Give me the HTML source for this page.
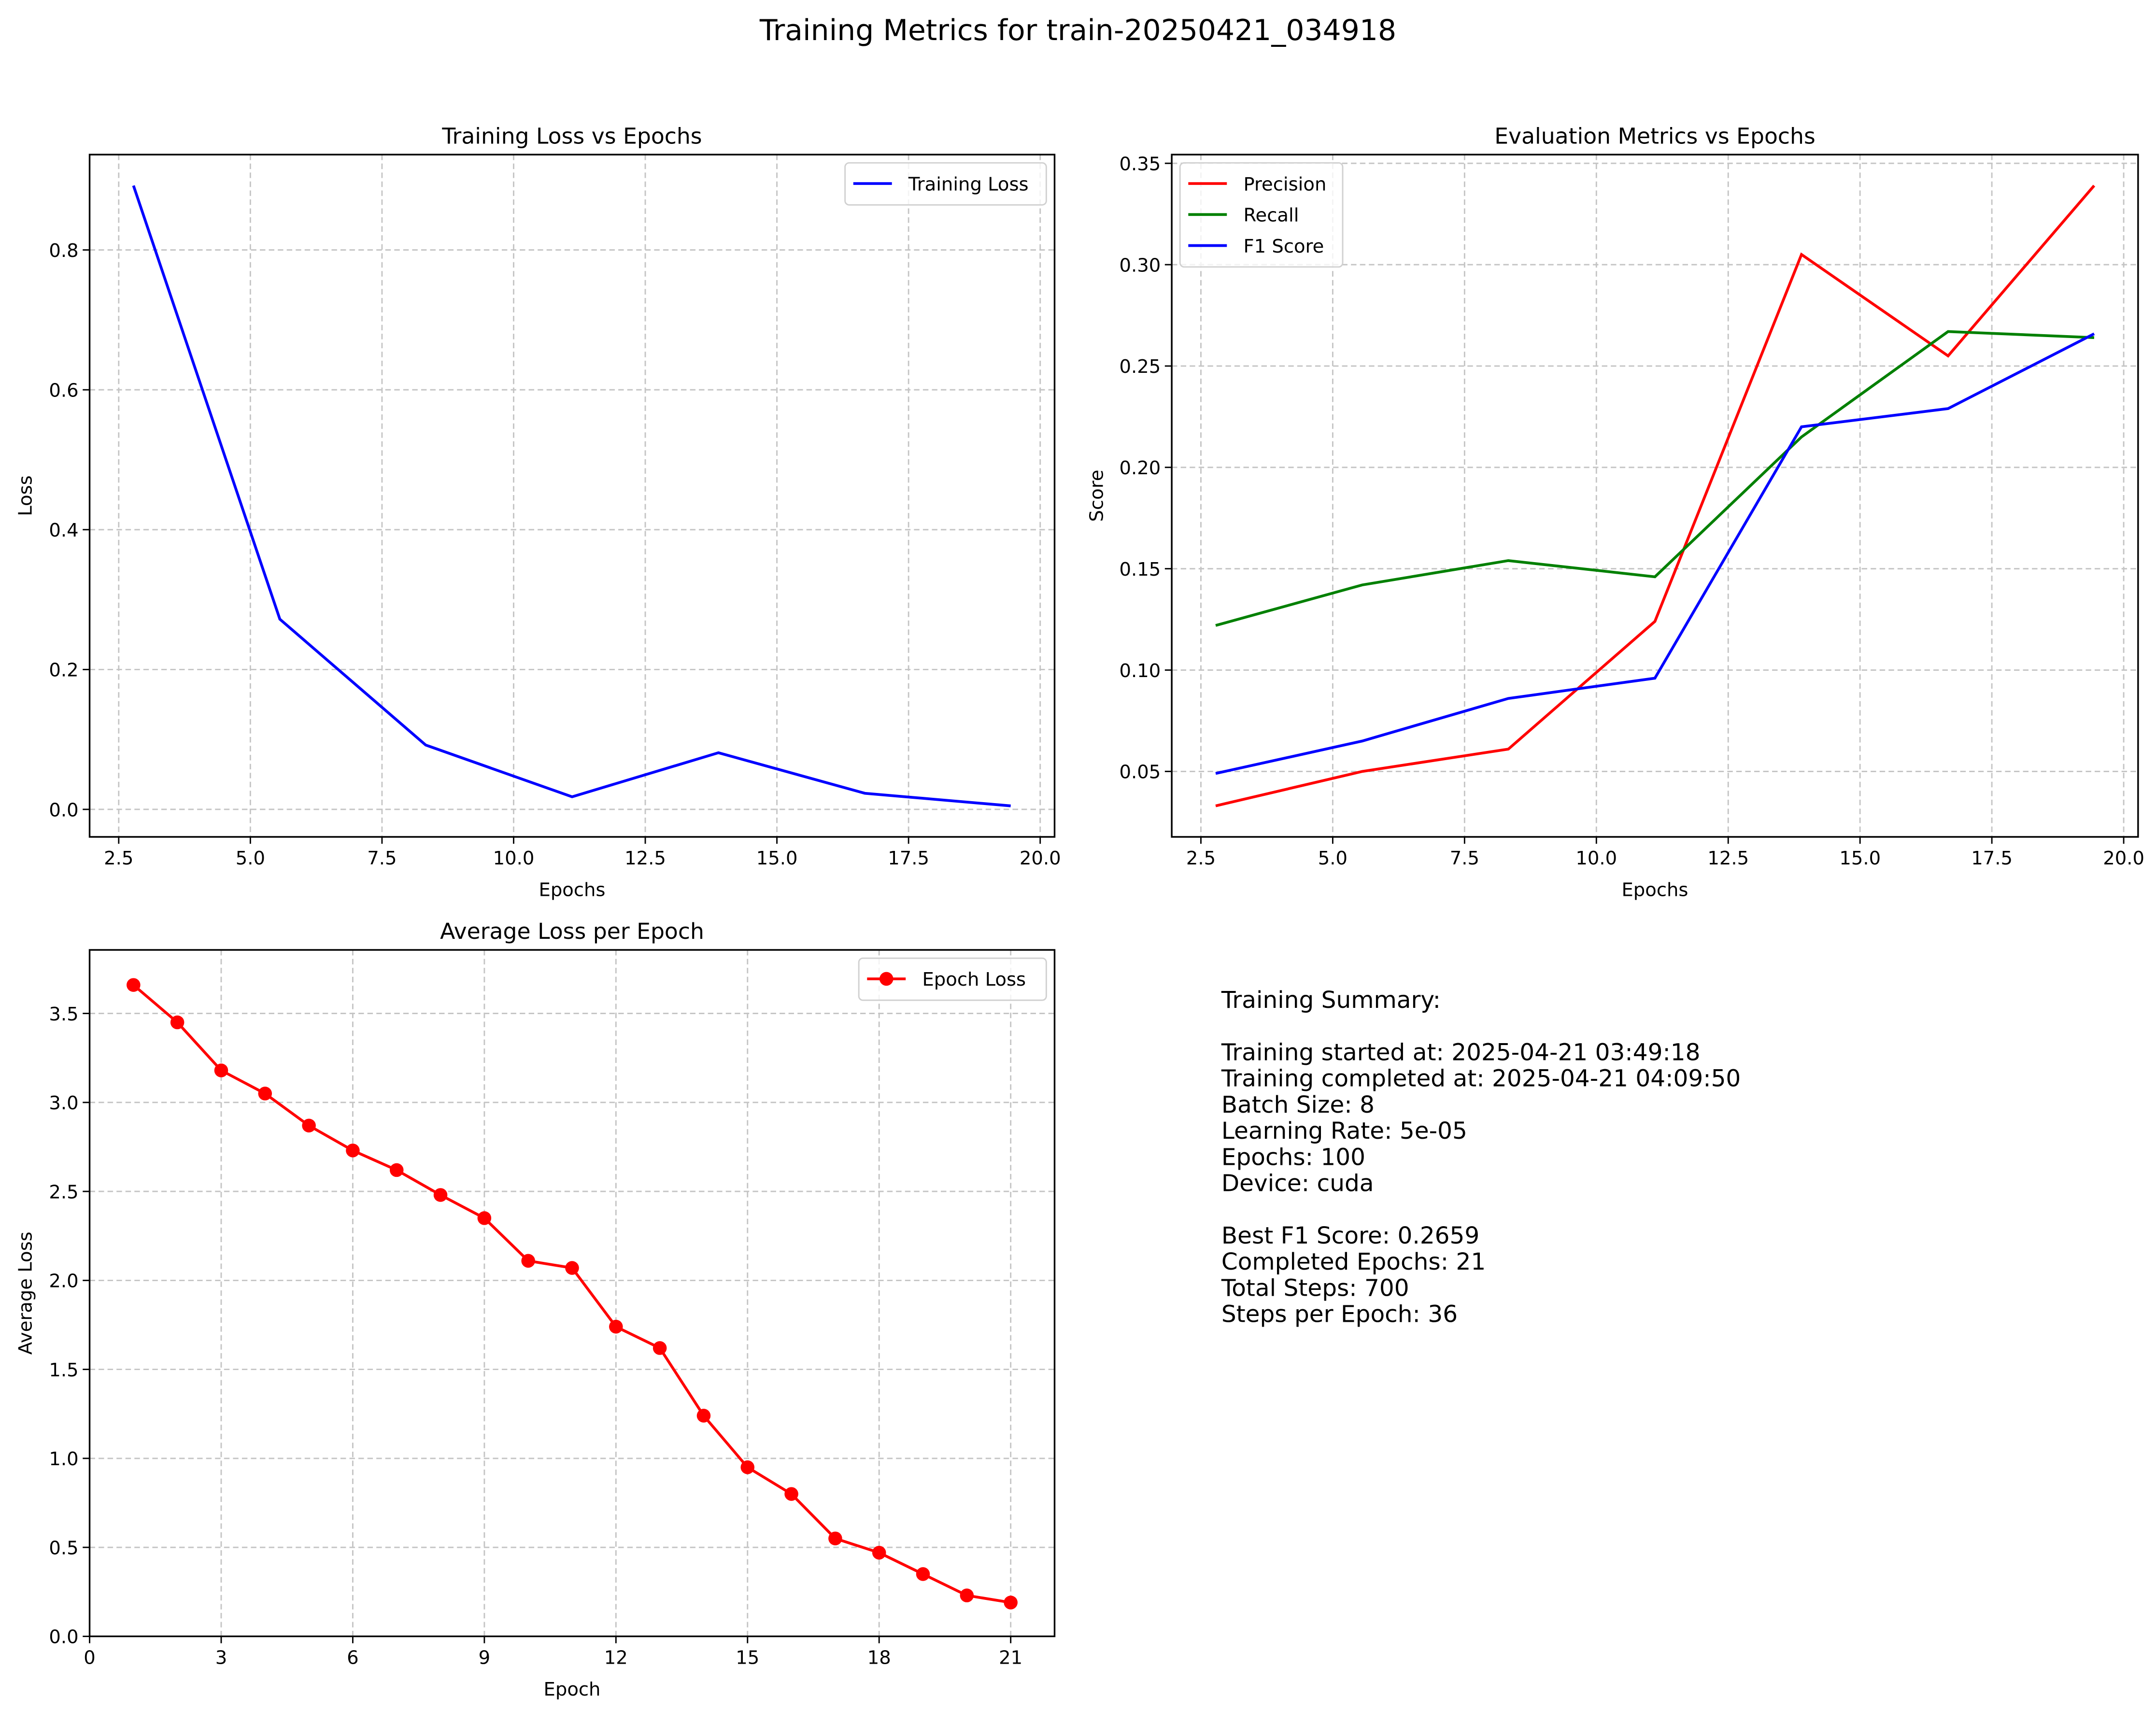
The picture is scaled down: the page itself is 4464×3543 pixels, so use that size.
<!DOCTYPE html>
<html><head><meta charset="utf-8"><style>
html,body{margin:0;padding:0;background:#fff;}
svg{display:block;font-family:"DejaVu Sans","Liberation Sans",sans-serif;}
</style></head><body>
<svg id="fig" width="4464" height="3543" viewBox="0 0 1564 1241" xmlns="http://www.w3.org/2000/svg">
<rect width="1564" height="1241" fill="#fff"/>
<text x="782" y="29" text-anchor="middle" font-size="21">Training Metrics for train-20250421_034918</text>
<g id="summary" font-size="17">
<text x="886" y="731">Training Summary:</text>
<text x="886" y="769">Training started at: 2025-04-21 03:49:18</text>
<text x="886" y="788">Training completed at: 2025-04-21 04:09:50</text>
<text x="886" y="807">Batch Size: 8</text>
<text x="886" y="826">Learning Rate: 5e-05</text>
<text x="886" y="845">Epochs: 100</text>
<text x="886" y="864">Device: cuda</text>
<text x="886" y="902">Best F1 Score: 0.2659</text>
<text x="886" y="921">Completed Epochs: 21</text>
<text x="886" y="940">Total Steps: 700</text>
<text x="886" y="959">Steps per Epoch: 36</text>
</g>
</svg>
<script>
const evalEpochs=[2.78,5.56,8.33,11.11,13.89,16.67,19.44];
const trainLoss=[0.892,0.272,0.092,0.018,0.081,0.023,0.005];
const precision=[0.033,0.050,0.061,0.124,0.305,0.255,0.339];
const recall=[0.122,0.142,0.154,0.146,0.215,0.267,0.264];
const f1=[0.049,0.065,0.086,0.096,0.220,0.229,0.2659];
const epochNums=[1,2,3,4,5,6,7,8,9,10,11,12,13,14,15,16,17,18,19,20,21];
const epochLoss=[3.66,3.45,3.18,3.05,2.87,2.73,2.62,2.48,2.35,2.11,2.07,1.74,1.62,1.24,0.95,0.80,0.55,0.47,0.35,0.23,0.19];
const xTicks1=[2.5,5.0,7.5,10.0,12.5,15.0,17.5,20.0];
const yTicks1=[0.0,0.2,0.4,0.6,0.8];
const yTicks2=[0.05,0.10,0.15,0.20,0.25,0.30,0.35];
const xTicks3=[0,3,6,9,12,15,18,21];
const yTicks3=[0.0,0.5,1.0,1.5,2.0,2.5,3.0,3.5];

const NS='http://www.w3.org/2000/svg';
const svg=document.getElementById('fig');
function mk(tag,attrs,parent){const e=document.createElementNS(NS,tag);for(const k in attrs)e.setAttribute(k,attrs[k]);(parent||svg).appendChild(e);return e;}
function lims(arr){let mn=Math.min(...arr),mx=Math.max(...arr),m=(mx-mn)*0.05;return [mn-m,mx+m];}

function axes(cfg){
  const g=mk('g',{});
  
  
  const L=cfg.l,R=cfg.r,T=cfg.t,B=cfg.b;
  const sx=v=>L+(v-cfg.xl[0])/(cfg.xl[1]-cfg.xl[0])*(R-L);
  const sy=v=>B-(v-cfg.yl[0])/(cfg.yl[1]-cfg.yl[0])*(B-T);
  cfg.xt.forEach(v=>{const x=sx(v);
    const gl=mk('line',{x1:x,x2:x,y1:T,y2:B,stroke:'#c4c4c4','stroke-width':1,'stroke-dasharray':'4,2.5'},g);
    
    
    mk('line',{x1:x,x2:x,y1:B,y2:B+5,stroke:'#000','stroke-width':1},g);
    const t=mk('text',{x:x,y:B+20,'text-anchor':'middle','font-size':13.5},g);t.textContent=cfg.xf(v);
    
    
  });
  cfg.yt.forEach(v=>{const y=sy(v);
    const gl=mk('line',{x1:L,x2:R,y1:y,y2:y,stroke:'#c4c4c4','stroke-width':1,'stroke-dasharray':'4,2.5'},g);
    
    
    mk('line',{x1:L-5,x2:L,y1:y,y2:y,stroke:'#000','stroke-width':1},g);
    const t=mk('text',{x:L-8,y:y+5,'text-anchor':'end','font-size':13.5},g);t.textContent=cfg.yf(v);
    
    
  });
  cfg.series.forEach(s=>{
    const pts=s.x.map((v,i)=>sx(v)+','+sy(s.y[i])).join(' ');
    const pl=mk('polyline',{points:pts,fill:'none',stroke:s.c,'stroke-width':2},g);
    
    
    if(s.marker) s.x.forEach((v,i)=>{const c=mk('circle',{cx:sx(v),cy:sy(s.y[i]),r:5,fill:s.c},g);
      
      });
  });
  const fr=mk('rect',{x:L,y:T,width:R-L,height:B-T,fill:'none',stroke:'#000','stroke-width':1.2},g);
  
  
  const tt=mk('text',{x:(L+R)/2,y:T-8,'text-anchor':'middle','font-size':16},g);tt.textContent=cfg.title;
  
  
  const xl=mk('text',{x:(L+R)/2,y:B+43,'text-anchor':'middle','font-size':13.5},g);xl.textContent=cfg.xlab;
  
  
  const yx=L-cfg.ylOff, yy=(T+B)/2;
  const yl=mk('text',{x:yx,y:yy,'text-anchor':'middle','font-size':13.5,transform:`rotate(-90 ${yx} ${yy})`},g);yl.textContent=cfg.ylab;
  
  
  const lg=mk('g',{},g);
  
  
  const n=cfg.series.length, lw=cfg.legW, lh=8+n*22.5;
  const lx=cfg.legRight?R-6-lw:L+6, ly=T+6;
  mk('rect',{x:lx,y:ly,width:lw,height:lh,rx:3,fill:'#fff','fill-opacity':0.8,stroke:'#d0d0d0','stroke-width':1},lg);
  cfg.series.forEach((s,i)=>{const y=ly+15+i*22.5;
    mk('line',{x1:lx+6,x2:lx+34,y1:y,y2:y,stroke:s.c,'stroke-width':2},lg);
    if(s.marker) mk('circle',{cx:lx+20,cy:y,r:5,fill:s.c},lg);
    const t=mk('text',{x:lx+46,y:y+5,'font-size':13.5},lg);t.textContent=s.label;
    
    
  });
}
const fx=v=>v.toFixed(1);
axes({name:'training-loss-plot',l:65,r:765,t:112,b:607,xl:lims(evalEpochs),yl:lims(trainLoss),xt:xTicks1,yt:yTicks1,xf:fx,yf:fx,
  title:'Training Loss vs Epochs',xlab:'Epochs',ylab:'Loss',ylOff:42,legRight:true,legW:146,
  series:[{name:'training-loss-line',x:evalEpochs,y:trainLoss,c:'#0000ff',label:'Training Loss'}]});
const allEval=precision.concat(recall,f1);
axes({name:'evaluation-metrics-plot',l:850,r:1551,t:112,b:607,xl:lims(evalEpochs),yl:lims(allEval),xt:xTicks1,yt:yTicks2,xf:fx,yf:v=>v.toFixed(2),
  title:'Evaluation Metrics vs Epochs',xlab:'Epochs',ylab:'Score',ylOff:50,legRight:false,legW:118,
  series:[{name:'precision-line',x:evalEpochs,y:precision,c:'#ff0000',label:'Precision'},
          {name:'recall-line',x:evalEpochs,y:recall,c:'#008000',label:'Recall'},
          {name:'f1-line',x:evalEpochs,y:f1,c:'#0000ff',label:'F1 Score'}]});
axes({name:'average-loss-plot',l:65,r:765,t:689,b:1187,xl:[0,22],yl:[0,3.857],xt:xTicks3,yt:yTicks3,xf:v=>String(v),yf:fx,
  title:'Average Loss per Epoch',xlab:'Epoch',ylab:'Average Loss',ylOff:42,legRight:true,legW:136,
  series:[{name:'epoch-loss-line',x:epochNums,y:epochLoss,c:'#ff0000',label:'Epoch Loss',marker:true}]});
</script>
</body></html>
